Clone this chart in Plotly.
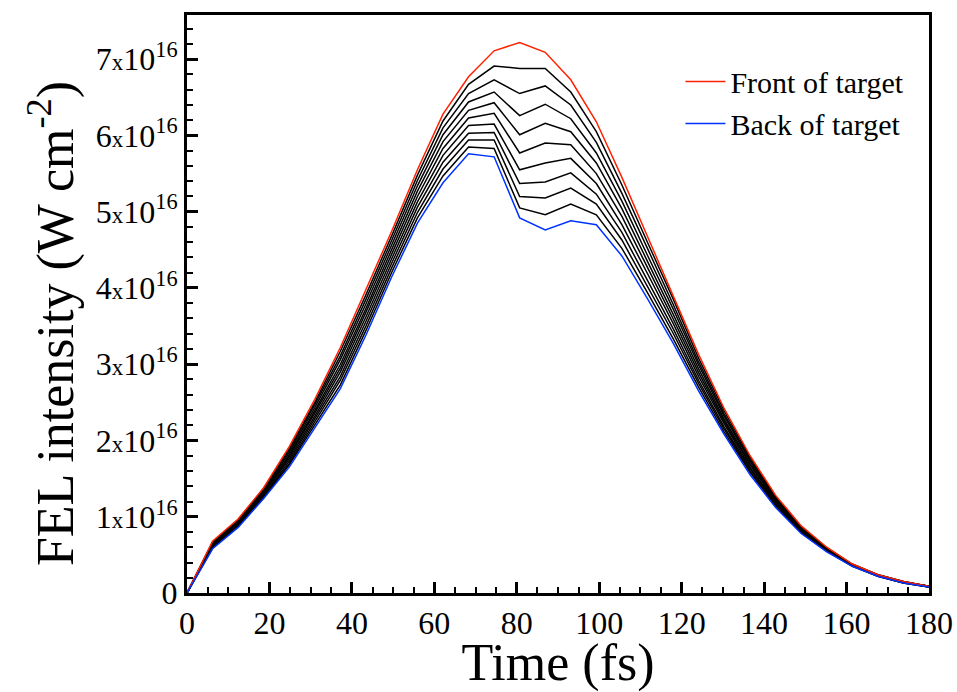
import plotly.graph_objects as go

# Time axis (fs)
time_fs = [0, 6.2, 12.4, 18.6, 24.8, 31.0, 37.2, 43.4, 49.7, 55.9, 62.1, 68.3, 74.5, 80.7, 86.9,
           93.1, 99.3, 105.5, 111.7, 117.9, 124.1, 130.3, 136.6, 142.8, 149.0, 155.2, 161.4,
           167.6, 173.8, 180.0]

# FEL intensity in units of 1e16 W cm^-2
front = [0, 0.68, 0.97, 1.38, 1.92, 2.54, 3.22, 3.97, 4.75, 5.55, 6.28, 6.77, 7.11, 7.22, 7.09,
         6.73, 6.18, 5.45, 4.68, 3.92, 3.13, 2.42, 1.80, 1.28, 0.88, 0.60, 0.38, 0.24, 0.15, 0.09]
back = [0, 0.58, 0.86, 1.24, 1.65, 2.17, 2.68, 3.38, 4.15, 4.85, 5.38, 5.76, 5.72, 4.92, 4.76,
        4.88, 4.83, 4.42, 3.86, 3.28, 2.65, 2.08, 1.55, 1.12, 0.78, 0.54, 0.35, 0.22, 0.13, 0.08]

depth_1 = [0, 0.67, 0.96, 1.37, 1.89, 2.50, 3.17, 3.91, 4.69, 5.48, 6.19, 6.67, 6.91, 6.88, 6.88,
           6.57, 6.05, 5.35, 4.60, 3.86, 3.08, 2.39, 1.78, 1.26, 0.87, 0.59, 0.38, 0.24, 0.15, 0.09]
depth_2 = [0, 0.66, 0.95, 1.35, 1.87, 2.47, 3.11, 3.85, 4.63, 5.41, 6.10, 6.55, 6.73, 6.55, 6.65,
           6.40, 5.91, 5.24, 4.52, 3.79, 3.03, 2.35, 1.75, 1.25, 0.86, 0.59, 0.37, 0.24, 0.15, 0.09]
depth_3 = [0, 0.65, 0.94, 1.34, 1.84, 2.43, 3.06, 3.79, 4.57, 5.34, 6.01, 6.44, 6.57, 6.26, 6.41,
           6.22, 5.77, 5.14, 4.43, 3.73, 2.99, 2.32, 1.73, 1.23, 0.85, 0.58, 0.37, 0.23, 0.14, 0.09]
depth_4 = [0, 0.64, 0.93, 1.32, 1.81, 2.39, 3.00, 3.73, 4.51, 5.27, 5.92, 6.33, 6.43, 6.01, 6.16,
           6.05, 5.64, 5.04, 4.35, 3.66, 2.94, 2.28, 1.70, 1.22, 0.84, 0.58, 0.37, 0.23, 0.14, 0.09]
depth_5 = [0, 0.63, 0.92, 1.31, 1.79, 2.36, 2.95, 3.68, 4.45, 5.20, 5.83, 6.23, 6.29, 5.77, 5.90,
           5.88, 5.50, 4.94, 4.27, 3.60, 2.89, 2.25, 1.68, 1.20, 0.83, 0.57, 0.37, 0.23, 0.14, 0.09]
depth_6 = [0, 0.62, 0.90, 1.30, 1.76, 2.32, 2.90, 3.62, 4.39, 5.13, 5.74, 6.13, 6.15, 5.55, 5.64,
           5.70, 5.37, 4.83, 4.19, 3.54, 2.84, 2.22, 1.65, 1.18, 0.82, 0.56, 0.36, 0.23, 0.14, 0.08]
depth_7 = [0, 0.61, 0.89, 1.28, 1.73, 2.28, 2.84, 3.56, 4.33, 5.06, 5.65, 6.03, 6.04, 5.37, 5.39,
           5.51, 5.23, 4.73, 4.11, 3.47, 2.79, 2.18, 1.63, 1.17, 0.81, 0.56, 0.36, 0.23, 0.14, 0.08]
depth_8 = [0, 0.60, 0.88, 1.27, 1.70, 2.24, 2.79, 3.50, 4.27, 4.99, 5.56, 5.94, 5.94, 5.20, 5.18,
           5.31, 5.10, 4.63, 4.02, 3.41, 2.75, 2.15, 1.60, 1.15, 0.80, 0.55, 0.36, 0.22, 0.13, 0.08]
depth_9 = [0, 0.59, 0.87, 1.25, 1.68, 2.21, 2.73, 3.44, 4.21, 4.92, 5.47, 5.85, 5.83, 5.05, 4.96,
           5.10, 4.96, 4.52, 3.94, 3.34, 2.70, 2.11, 1.58, 1.14, 0.79, 0.55, 0.35, 0.22, 0.13, 0.08]

inner_curves = [depth_1, depth_2, depth_3, depth_4, depth_5, depth_6, depth_7, depth_8, depth_9]

y_tickvals = [0, 1, 2, 3, 4, 5, 6, 7]
y_ticktext = ["0"] + [f"{v}<span style='font-size:23px'>x</span>10<sup>16</sup>" for v in range(1, 8)]
x_tickvals = [0, 20, 40, 60, 80, 100, 120, 140, 160, 180]

FONT = "Liberation Serif"

fig = go.Figure()
for curve in inner_curves:
    fig.add_trace(go.Scatter(x=time_fs, y=curve, mode="lines",
                             line=dict(color="black", width=1.5), showlegend=False,
                             hoverinfo="skip"))
fig.add_trace(go.Scatter(x=time_fs, y=front, mode="lines", name="Front of target",
                         line=dict(color="#ff2200", width=1.5)))
fig.add_trace(go.Scatter(x=time_fs, y=back, mode="lines", name="Back of target",
                         line=dict(color="#0033ff", width=1.5)))

fig.update_layout(
    template="none",
    width=957, height=692,
    margin=dict(l=187, r=28, t=15, b=99),
    paper_bgcolor="white", plot_bgcolor="white",
    font=dict(family=FONT, color="black", size=30),
    legend=dict(x=0.665, y=0.93, xanchor="left", yanchor="top",
                font=dict(family=FONT, size=30, color="black"),
                bgcolor="rgba(0,0,0,0)", tracegroupgap=0, itemwidth=40),
    showlegend=True,
)

fig.update_xaxes(
    range=[0, 180], tickvals=x_tickvals, ticks="inside", ticklen=11, tickwidth=2.5,
    tickcolor="black", showline=True, linewidth=3, linecolor="black", mirror=True,
    showgrid=False, zeroline=False,
    tickfont=dict(family=FONT, size=32, color="black"),
    minor=dict(dtick=5, ticks="inside", ticklen=6, tickwidth=1.8, tickcolor="black", showgrid=False),
    title=dict(text="Time (fs)", font=dict(family=FONT, size=52, color="black"), standoff=9),
)
fig.update_yaxes(
    range=[0, 7.58], tickvals=y_tickvals, ticktext=y_ticktext, ticks="inside", ticklen=11,
    tickwidth=2.5, tickcolor="black", showline=True, linewidth=3, linecolor="black",
    mirror=True, showgrid=False, zeroline=False,
    tickfont=dict(family=FONT, size=32, color="black"),
    minor=dict(dtick=0.2, ticks="inside", ticklen=6, tickwidth=1.8, tickcolor="black", showgrid=False),
    title=dict(text="FEL intensity (W cm<sup>-2</sup>)&nbsp;&nbsp;&nbsp;",
               font=dict(family=FONT, size=52, color="black"), standoff=6),
)

fig.write_html("out.html")
